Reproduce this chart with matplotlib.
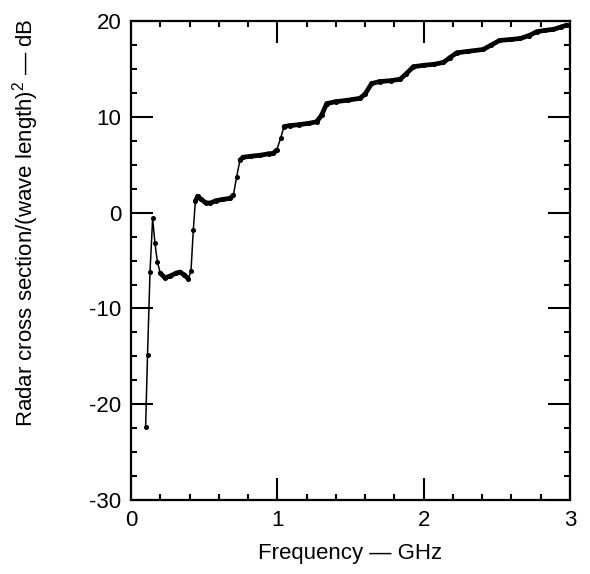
import numpy as np
import matplotlib
matplotlib.use("Agg")
import matplotlib.pyplot as plt
from matplotlib.ticker import MultipleLocator

# values
freq_ghz = [0.100, 0.113, 0.130, 0.148, 0.164, 0.180, 0.200, 0.232, 0.270, 0.310,
            0.335, 0.365, 0.392, 0.410, 0.426, 0.440, 0.455, 0.480, 0.510, 0.540,
            0.580, 0.630, 0.677, 0.700, 0.722, 0.745, 0.767, 0.820, 0.880, 0.940,
            0.973, 0.996, 1.023, 1.046, 1.087, 1.150, 1.220, 1.269, 1.303, 1.338,
            1.400, 1.480, 1.565, 1.600, 1.645, 1.700, 1.780, 1.840, 1.880, 1.930,
            2.000, 2.070, 2.135, 2.180, 2.226, 2.300, 2.408, 2.460, 2.520, 2.600,
            2.660, 2.720, 2.773, 2.830, 2.886, 2.940, 2.978]
rcs_db = [-22.4, -14.9, -6.2, -0.6, -3.2, -5.1, -6.3, -6.8, -6.6, -6.3,
          -6.2, -6.5, -6.9, -6.1, -1.8, 1.2, 1.7, 1.4, 1.05, 1.0,
          1.25, 1.4, 1.5, 1.85, 3.75, 5.5, 5.8, 5.9, 6.0, 6.15,
          6.2, 6.55, 7.8, 9.0, 9.1, 9.2, 9.35, 9.5, 10.2, 11.4,
          11.6, 11.75, 11.95, 12.4, 13.5, 13.7, 13.8, 13.95, 14.5, 15.25,
          15.4, 15.5, 15.7, 16.2, 16.7, 16.85, 17.05, 17.5, 18.0, 18.1,
          18.2, 18.5, 18.9, 19.05, 19.15, 19.4, 19.6]

x_ticks = [0, 1, 2, 3]
y_ticks = [-30, -20, -10, 0, 10, 20]

plt.rcParams['font.family'] = ['Liberation Sans', 'DejaVu Sans']
plt.rcParams['mathtext.fontset'] = 'custom'
plt.rcParams['mathtext.rm'] = 'Liberation Sans'
plt.rcParams['axes.unicode_minus'] = False

fig = plt.figure(figsize=(5.9, 5.74), dpi=100)
ax = fig.add_axes([0.222, 0.129, 0.744, 0.834])

f = np.array(freq_ghz)
r = np.array(rcs_db)

# thin line with sample dots
ax.plot(f, r, color='black', lw=1.1, marker='o', ms=2.6, zorder=2)

# the slowly varying parts are drawn as a heavy line
slope = np.abs(np.diff(r) / np.diff(f))
for i in range(len(f) - 1):
    if slope[i] < 40:
        ax.plot(f[i:i + 2], r[i:i + 2], color='black', lw=3.4,
                solid_capstyle='round', zorder=3)

ax.set_xlim(0, 3)
ax.set_ylim(-30, 20)
ax.set_xticks(x_ticks)
ax.set_yticks(y_ticks)
ax.xaxis.set_minor_locator(MultipleLocator(0.2))
ax.yaxis.set_minor_locator(MultipleLocator(2.5))
ax.tick_params(which='both', direction='in', top=True, right=True, width=1.5,
               labelsize=16, colors='black')
ax.tick_params(which='major', length=16, pad=7)
ax.tick_params(which='minor', length=4)
for s in ax.spines.values():
    s.set_linewidth(1.6)

ax.set_xlabel('Frequency \u2014 GHz', fontsize=16, labelpad=9)
ax.set_ylabel('Radar cross section/(wave length)$^2$ \u2014 dB', fontsize=16)
ax.yaxis.set_label_coords(-0.205, 0.58)

fig.savefig('out.png', dpi=100)
